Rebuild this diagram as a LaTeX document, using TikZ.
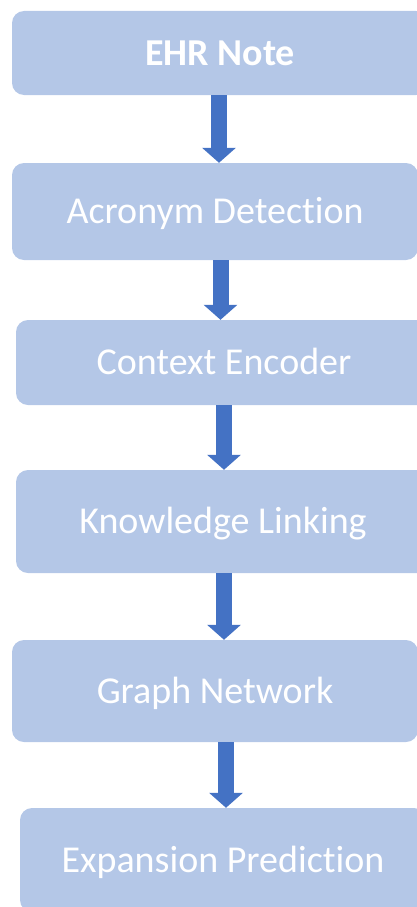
\documentclass[tikz,border=0pt]{standalone}
\usepackage{fontspec}
\setmainfont[Ligatures=NoCommon]{Carlito}
\usetikzlibrary{arrows.meta}
\definecolor{boxblue}{HTML}{B4C7E7}
\definecolor{arrowblue}{HTML}{4472C4}
\begin{document}
\begin{tikzpicture}[x=1pt,y=-1pt,
    stage/.style={fill=boxblue,rounded corners=12pt,text=white,
      font=\fontsize{38}{44}\selectfont,inner sep=0pt,
      text height=24.5pt,text depth=0pt},
    flow/.style={draw=arrowblue,line width=16pt,
      -{Triangle[width=33pt,length=15pt]}}]
  \useasboundingbox (0,0) rectangle (417,907);
  % pipeline stages, top to bottom
  \node[stage,minimum width=416pt,minimum height=84pt,font=\fontsize{38}{44}\selectfont\bfseries]
    (ehr) at (220,53) {EHR Note};
  \node[stage,minimum width=406pt,minimum height=97pt] (acr) at (215,211.5) {Acronym Detection};
  \node[stage,minimum width=416pt,minimum height=85pt] (enc) at (224,362.5) {Context Encoder};
  \node[stage,minimum width=414pt,minimum height=103pt] (link) at (223,521.5) {Knowledge Linking};
  \node[stage,minimum width=406pt,minimum height=102pt] (gnn) at (215,691) {Graph Network};
  \node[stage,minimum width=406pt,minimum height=104pt] (pred) at (223,860) {Expansion Prediction};
  % arrows between stages
  \draw[flow] (ehr.south -| 219,0) -- (acr.north -| 219,0);
  \draw[flow] (acr.south -| 220.5,0) -- (enc.north -| 220.5,0);
  \draw[flow] (enc.south -| 224,0) -- (link.north -| 224,0);
  \draw[flow] (link.south -| 224,0) -- (gnn.north -| 224,0);
  \draw[flow] (gnn.south -| 226,0) -- (pred.north -| 226,0);
\end{tikzpicture}
\end{document}
